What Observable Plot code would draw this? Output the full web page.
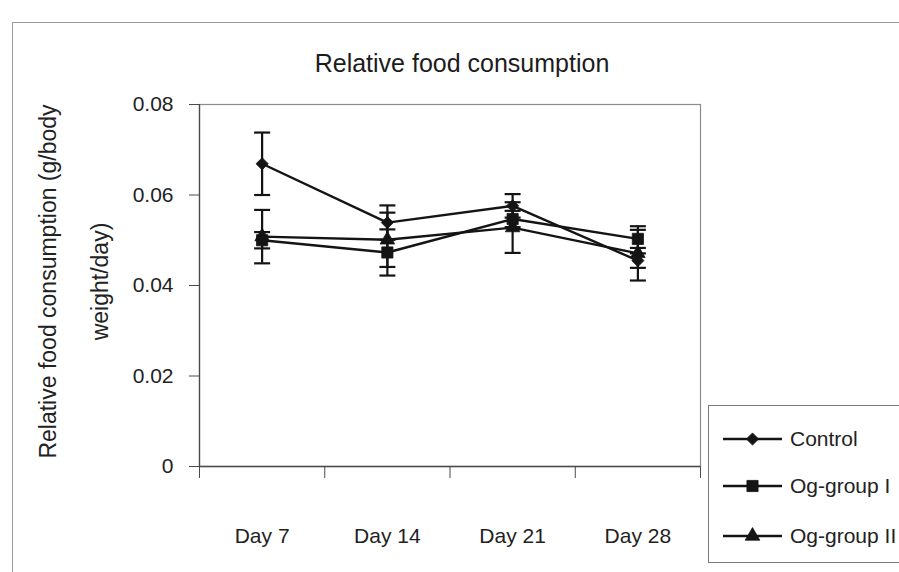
<!DOCTYPE html>
<html>
<head>
<meta charset="utf-8">
<script src="https://cdn.jsdelivr.net/npm/d3@7"></script>
<script src="https://cdn.jsdelivr.net/npm/@observablehq/plot@0.6"></script>
<style>
  html, body { margin: 0; padding: 0; background: #fff; overflow: hidden; }
  #wrap { position: relative; width: 899px; height: 572px; overflow: hidden;
          font-family: "Liberation Sans", Arial, sans-serif; color: #262626; }
  #wrap svg.plot { position: absolute; left: 0; top: 0; }
  #outer { position: absolute; left: 12px; top: 22px; width: 1000px; height: 700px;
           border: 1.5px solid #9a9a9a; box-sizing: border-box; pointer-events: none; }
  #legend { position: absolute; left: 708px; top: 405px; width: 260px; height: 158px;
            border: 1.5px solid #7a7a7a; box-sizing: border-box; background: #fff; }
  #legend .row { position: absolute; left: 14px; height: 30px; display: flex; align-items: center; }
  #legend .row span { margin-left: 7px; font-size: 21px; color: #222; white-space: nowrap; }
</style>
</head>
<body>
<div id="wrap"><div id="outer"></div></div>
<script>
// Sampling days (categories)
const days = ["Day 7", "Day 14", "Day 21", "Day 28"];

// Series names
const groups = ["Control", "Og-group I", "Og-group II"];

// Mean relative food consumption (g/body weight/day)
const control   = [0.0669, 0.0539, 0.0576, 0.0455];
const groupI    = [0.0500, 0.0473, 0.0547, 0.0503];
const groupII   = [0.0508, 0.0501, 0.0528, 0.0471];

// Error (±) for each mean
const controlErr = [0.0069, 0.0038, 0.0026, 0.0016];
const groupIErr  = [0.0018, 0.0051, 0.0018, 0.0020];
const groupIIErr = [0.0059, 0.0060, 0.0056, 0.0060];

// Y axis ticks and labels
const yTicks = [0, 0.02, 0.04, 0.06, 0.08];
const yTickLabels = ["0", "0.02", "0.04", "0.06", "0.08"];

const title = "Relative food consumption";
const yTitle = "Relative food consumption (g/body\nweight/day)";

// Long-form table built from the arrays above
const seriesValues = [control, groupI, groupII];
const seriesErrors = [controlErr, groupIErr, groupIIErr];
const rows = groups.flatMap((g, gi) =>
  days.map((day, di) => ({group: g, day, value: seriesValues[gi][di], err: seriesErrors[gi][di]}))
);

const pos = d => days.indexOf(d.day) + 1;
const ink = "#141414";

// Horizontal cap symbol for the error bars
const capSymbol = {
  draw(context, size) {
    const w = Math.sqrt(size / Math.PI);
    context.moveTo(-w, 0);
    context.lineTo(w, 0);
  }
};

const markerSymbols = {"Control": "diamond2", "Og-group I": "square", "Og-group II": "triangle"};
const markerR = {"Control": 5.5, "Og-group I": 6.3, "Og-group II": 5.4};

const chart = Plot.plot({
  width: 899,
  height: 572,
  marginLeft: 199,
  marginRight: 199,
  marginTop: 104,
  marginBottom: 106,
  style: {fontFamily: "'Liberation Sans', Arial, sans-serif", color: "#262626", background: "transparent", overflow: "visible"},
  x: {type: "linear", domain: [0.5, days.length + 0.5]},
  y: {domain: [0, 0.08]},
  marks: [
    Plot.frame({stroke: "#8c8c8c", strokeWidth: 1.2}),
    // axis lines
    Plot.ruleX([0.5], {stroke: "#4a4a4a", strokeWidth: 1.3}),
    Plot.ruleY([0], {stroke: "#4a4a4a", strokeWidth: 1.3}),
    Plot.axisY({
      ticks: yTicks, tickSize: 10, tickPadding: 16, label: null,
      tickFormat: d => yTickLabels[yTicks.indexOf(d)],
      fontSize: 21, stroke: "#4a4a4a", fill: "#222"
    }),
    // tick marks between categories
    Plot.axisX({
      ticks: d3.range(days.length + 1).map(i => i + 0.5), tickSize: 12, label: null,
      tickFormat: () => "", stroke: "#4a4a4a"
    }),
    // category labels
    Plot.axisX({
      ticks: days.map((d, i) => i + 1), tickSize: 0, tickPadding: 62, label: null,
      tickFormat: d => days[d - 1], fontSize: 21, fill: "#222"
    }),
    Plot.text([title], {frameAnchor: "top", dx: 12, dy: -50, fontSize: 25, fill: "#1c1c1c"}),
    Plot.text([yTitle], {
      frameAnchor: "left", textAnchor: "middle", lineAnchor: "middle", rotate: -90,
      dx: -134, dy: -4, fontSize: 23, lineHeight: 2.26, fill: "#222"
    }),
    // series lines
    Plot.line(rows, {x: pos, y: "value", z: "group", stroke: ink, strokeWidth: 2.4}),
    // error bars
    Plot.ruleX(rows, {x: pos, y1: d => d.value - d.err, y2: d => d.value + d.err, stroke: ink, strokeWidth: 2.2}),
    Plot.dot(rows, {x: pos, y: d => d.value + d.err, symbol: capSymbol, r: 8, stroke: ink, strokeWidth: 2.2}),
    Plot.dot(rows, {x: pos, y: d => d.value - d.err, symbol: capSymbol, r: 8, stroke: ink, strokeWidth: 2.2}),
    // markers, one series at a time
    ...groups.map(g => Plot.dot(rows.filter(d => d.group === g), {
      x: pos, y: "value", symbol: markerSymbols[g], r: markerR[g], fill: ink, stroke: ink, strokeWidth: 0.8
    }))
  ]
});

const wrap = document.getElementById("wrap");
wrap.insertBefore(chart, wrap.firstChild);

// Legend
const legend = document.createElement("div");
legend.id = "legend";
const d3Symbols = {
  "Control": d3.symbolDiamond2 || d3.symbolDiamond,
  "Og-group I": d3.symbolSquare,
  "Og-group II": d3.symbolTriangle
};
const rowCenters = [33, 80, 130];
groups.forEach((g, i) => {
  const row = document.createElement("div");
  row.className = "row";
  row.style.top = (rowCenters[i] - 15) + "px";
  const svg = d3.create("svg").attr("width", 60).attr("height", 30);
  svg.append("line").attr("x1", 0).attr("x2", 59).attr("y1", 15).attr("y2", 15)
    .attr("stroke", ink).attr("stroke-width", 2.4);
  const r = markerR[g];
  svg.append("path")
    .attr("transform", "translate(29.5,15)")
    .attr("d", d3.symbol(d3Symbols[g], r * r * Math.PI)())
    .attr("fill", ink).attr("stroke", ink).attr("stroke-width", 0.8);
  row.appendChild(svg.node());
  const label = document.createElement("span");
  label.textContent = g;
  row.appendChild(label);
  legend.appendChild(row);
});
wrap.appendChild(legend);
</script>
</body>
</html>
